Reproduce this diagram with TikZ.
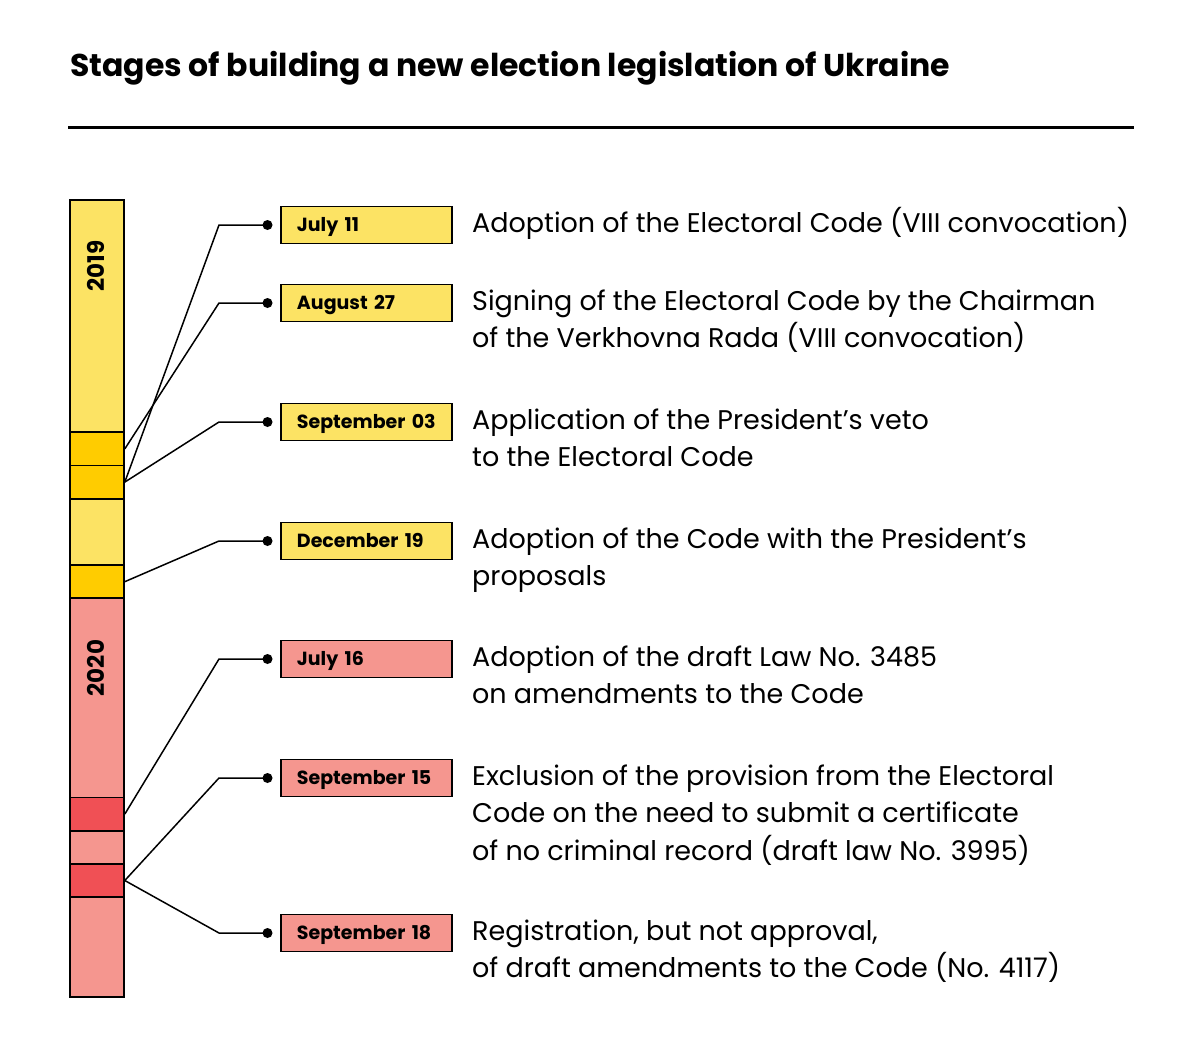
\documentclass[tikz,border=0pt]{standalone}
\usepackage{fontspec}
\setmainfont{Poppins}
\usetikzlibrary{positioning}
\definecolor{yearone}{RGB}{252,227,100}
\definecolor{markone}{RGB}{255,204,0}
\definecolor{yeartwo}{RGB}{245,150,143}
\definecolor{marktwo}{RGB}{240,80,85}

\begin{document}
\begin{tikzpicture}[
  x=1pt, y=-1pt,
  cell/.style={draw,line width=1.8pt,minimum width=54pt,inner sep=0pt,anchor=north west},
  year/.style={rotate=90,font=\bfseries\fontsize{23}{26}\selectfont},
  dot/.style={circle,fill,inner sep=0pt,minimum size=10pt},
  datebox/.style={draw,line width=1.5pt,minimum height=37pt,text width=139pt,text height=16pt,text depth=3pt,inner xsep=16pt,inner ysep=0pt,align=left,font=\bfseries\fontsize{19}{24}\selectfont},
  event/.style={anchor=base west,align=left,inner sep=0pt,font=\fontsize{27}{37.5}\selectfont},
  link/.style={line width=1.5pt}
]
\useasboundingbox[fill=white] (0,0) rectangle (1200,1046);

% title
\node[anchor=base west,inner sep=0pt,font=\bfseries\fontsize{31.5}{36}\selectfont] (title) at (70,77) {Stages of building a new election legislation of Ukraine};
\draw[line width=3pt] (68,128) -- (1134,128);

% timeline bar: first month / number of months / colour
\foreach \i/\m/\col in {0/7/yearone,7/1/markone,8/1/markone,9/2/yearone,11/1/markone,
  12/6/yeartwo,18/1/marktwo,19/1/yeartwo,20/1/marktwo,21/3/yeartwo}
  \node[cell,fill=\col,minimum height=33.2pt*\m] (c\i) at (69,199+33.2*\i) {};
\node[year] (y2019) at (96,266) {2019};
\node[year] (y2020) at (96,668) {2020};

% dots and date boxes
\coordinate (bx) at (219,0);
\foreach \n/\y/\col/\txt in {1/225/yearone/July 11,2/303/yearone/August~27,3/422/yearone/September~03,
  4/541/yearone/December~19,5/659/yeartwo/July~16,6/778/yeartwo/September~15,7/933/yeartwo/September~18} {
  \node[dot] (d\n) at (267.5,\y) {};
  \node[datebox,fill=\col,right=7.5pt of d\n] (b\n) {\txt};
}

% events (base = last line)
\node[event] (e1) at (472,232) {Adoption of the Electoral Code (VIII convocation)};
\node[event] (e2) at (472,347.5) {Signing of the Electoral Code by the Chairman\\of the Verkhovna Rada (VIII convocation)};
\node[event] (e3) at (472,466.5) {Application of the President’s veto\\to the Electoral Code};
\node[event] (e4) at (472,585.5) {Adoption of the Code with the President’s\\proposals};
\node[event] (e5) at (472,703.5) {Adoption of the draft Law No. 3485\\on amendments to the Code};
\node[event] (e6) at (472,860) {Exclusion of the provision from the Electoral\\Code on the need to submit a certificate\\of no criminal record (draft law No. 3995)};
\node[event] (e7) at (472,977.5) {Registration, but not approval,\\of draft amendments to the Code (No. 4117)};

% connectors
\draw[link] (c8.east) -- (d1 -| bx) -- (d1.center);
\draw[link] (c7.east) -- (d2 -| bx) -- (d2.center);
\draw[link] (c8.east) -- (d3 -| bx) -- (d3.center);
\draw[link] (c11.east) -- (d4 -| bx) -- (d4.center);
\draw[link] (c18.east) -- (d5 -| bx) -- (d5.center);
\draw[link] (c20.east) -- (d6 -| bx) -- (d6.center);
\draw[link] (c20.east) -- (d7 -| bx) -- (d7.center);
\end{tikzpicture}
\end{document}
